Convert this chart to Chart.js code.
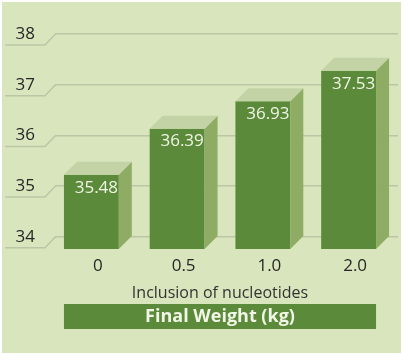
<!DOCTYPE html>
<html>
<head>
<meta charset="utf-8">
<script src="https://cdn.jsdelivr.net/npm/chart.js@4"></script>
<style>
  html, body { margin: 0; padding: 0; background: #ffffff; }
  #wrap { width: 408px; height: 360px; }
</style>
</head>
<body>
<div id="wrap"><canvas id="c" width="408" height="360"></canvas></div>
<script>
const categories = ['0', '0.5', '1.0', '2.0'];
const finalWeight = [35.48, 36.39, 36.93, 37.53];
const yTicks = [34, 35, 36, 37, 38];
const xAxisTitle = 'Inclusion of nucleotides';
const chartTitle = 'Final Weight (kg)';

const DEPTH_X = 6.5;   // half horizontal depth offset
const DEPTH_Y = 13;    // vertical depth offset
const BAR_PCT = 0.64;
const PANEL = '#d9e6bd';
const FRONT = '#5a8a3a';
const SIDE = '#8eac64';
const TOP = '#c4d3a5';
const GRID = '#bcc6a6';

const threeD = {
  id: 'threeD',
  afterLayout(chart) {
    // align the bottom title blocks with the span of the bar fronts
    const x = chart.scales.x;
    const n = categories.length;
    const cw = (x.right - x.left) / n;
    const bw = cw * BAR_PCT;
    const l = x.getPixelForValue(0) - bw / 2 - DEPTH_X;
    const r = x.getPixelForValue(n - 1) + bw / 2 - DEPTH_X;
    chart.boxes
      .filter(b => b.options && b.options.text !== undefined && b.position === 'bottom')
      .forEach(b => { b.left = l; b.right = r; b.width = r - l; });
  },
  beforeDraw(chart) {
    const ctx = chart.ctx;
    ctx.save();
    ctx.fillStyle = '#ffffff';
    ctx.fillRect(0, 0, chart.width, chart.height);
    ctx.fillStyle = PANEL;
    ctx.fillRect(2, 2, 399, 351);
    const tb = chart.titleBlock;
    if (tb) {
      ctx.fillStyle = FRONT;
      ctx.fillRect(tb.left, tb.top, tb.right - tb.left, tb.height);
    }
    ctx.restore();
  },
  beforeDatasetsDraw(chart) {
    // stepped left part of each gridline
    const ctx = chart.ctx;
    const y = chart.scales.y;
    const left = chart.chartArea.left;
    ctx.save();
    ctx.strokeStyle = GRID;
    ctx.lineWidth = 1.5;
    y.ticks.forEach(t => {
      const py = y.getPixelForValue(t.value);
      ctx.beginPath();
      ctx.moveTo(left + 0.5, py);
      ctx.lineTo(left - 10, py + 11);
      ctx.lineTo(5, py + 11);
      ctx.stroke();
    });
    ctx.restore();
  },
  beforeDatasetDraw(chart) {
    chart.ctx.save();
    chart.ctx.translate(-DEPTH_X, DEPTH_Y);
  },
  afterDatasetDraw(chart, args) {
    const ctx = chart.ctx;
    ctx.restore();
    const meta = args.meta;
    ctx.save();
    meta.data.forEach((bar, i) => {
      const p = bar.getProps(['x', 'y', 'base', 'width'], true);
      const fl = p.x - p.width / 2 - DEPTH_X, fr = p.x + p.width / 2 - DEPTH_X;
      const bl = p.x - p.width / 2 + DEPTH_X, br = p.x + p.width / 2 + DEPTH_X;
      const fy = p.y + DEPTH_Y, by = p.y;
      // side face
      ctx.fillStyle = SIDE;
      ctx.beginPath();
      ctx.moveTo(fr, fy);
      ctx.lineTo(br, by);
      ctx.lineTo(br, p.base);
      ctx.lineTo(fr, p.base + DEPTH_Y);
      ctx.closePath();
      ctx.fill();
      // top face
      ctx.fillStyle = TOP;
      ctx.beginPath();
      ctx.moveTo(fl, fy);
      ctx.lineTo(bl, by);
      ctx.lineTo(br, by);
      ctx.lineTo(fr, fy);
      ctx.closePath();
      ctx.fill();
      // value label
      ctx.fillStyle = '#f2f6e6';
      ctx.font = '17px "Open Sans", "DejaVu Sans", sans-serif';
      ctx.textAlign = 'center';
      ctx.textBaseline = 'middle';
      ctx.fillText(finalWeight[i].toFixed(2), p.x - 1.5, p.y + 26);
    });
    ctx.restore();
  }
};

new Chart(document.getElementById('c'), {
  type: 'bar',
  data: {
    labels: categories,
    datasets: [{
      data: finalWeight,
      backgroundColor: FRONT,
      borderWidth: 0,
      base: yTicks[0],
      categoryPercentage: 1,
      barPercentage: BAR_PCT,
      clip: false
    }]
  },
  options: {
    responsive: false,
    animation: false,
    devicePixelRatio: 1,
    layout: { padding: { top: 34, right: 10, bottom: 31, left: 0 } },
    plugins: {
      legend: { display: false },
      tooltip: { enabled: false },
      subtitle: {
        display: true,
        position: 'bottom',
        text: xAxisTitle,
        color: '#333333',
        font: { family: '"Open Sans", "DejaVu Sans", sans-serif', size: 16, weight: 'normal', lineHeight: 1.2 },
        padding: { top: 0, bottom: 1 }
      },
      title: {
        display: true,
        position: 'bottom',
        text: chartTitle,
        color: '#f2f6e6',
        font: { family: '"Open Sans", "DejaVu Sans", sans-serif', size: 18, weight: 'bold', lineHeight: 1.2 },
        padding: { top: 2, bottom: 1.4 }
      }
    },
    scales: {
      y: {
        min: 34,
        max: 38,
        afterFit(scale) { scale.width = 55; },
        afterBuildTicks(scale) { scale.ticks = yTicks.map(v => ({ value: v })); },
        ticks: {
          color: '#262626',
          padding: 20,
          font: { family: '"Open Sans", "DejaVu Sans", sans-serif', size: 17 }
        },
        grid: { color: GRID, lineWidth: 1.5, drawTicks: false },
        border: { display: false }
      },
      x: {
        afterFit(scale) { scale.height = 47; },
        ticks: {
          color: '#262626',
          padding: 19,
          font: { family: '"Open Sans", "DejaVu Sans", sans-serif', size: 17 }
        },
        grid: { display: false, drawTicks: false },
        border: { display: false }
      }
    }
  },
  plugins: [threeD]
});
</script>
</body>
</html>
